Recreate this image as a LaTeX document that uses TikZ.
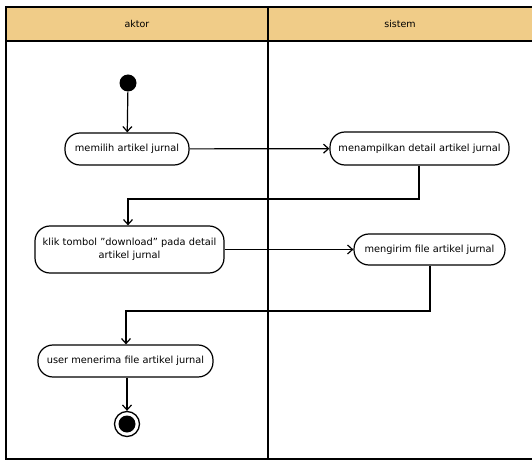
\documentclass[tikz,border=0pt]{standalone}
\usepackage{fontspec}
\setmainfont{DejaVu Sans}
\usetikzlibrary{arrows.meta}
\definecolor{headfill}{HTML}{F0CC88}
\tikzset{
  act/.style={draw, line width=1.2pt, rounded corners=15pt, fill=white, align=center,
    inner sep=0pt, font=\fontsize{9.8}{13}\selectfont},
  flow/.style={line width=1.2pt, -{Straight Barb[length=5pt,width=9pt]}},
  lane/.style={line width=1.8pt},
  headtxt/.style={font=\fontsize{9.5}{11}\selectfont}
}
\begin{document}
\begin{tikzpicture}[x=1pt,y=-1pt]
\useasboundingbox (0,0) rectangle (532,462);
% header
\fill[headfill] (6,7) rectangle (534,41);
\draw[lane] (534,7) -- (6,7) -- (6,459) -- (534,459);
\draw[lane] (6,41) -- (534,41);
\draw[lane] (268,7) -- (268,459);
\node[headtxt] (h1) at (137,24) {aktor};
\node[headtxt] (h2) at (400,24) {sistem};
% start
\node[circle, fill=black, minimum size=17pt, inner sep=0pt] (start) at (128,83) {};
% actions
\node[act, minimum width=124pt, minimum height=32pt] (a1) at (127,149) {memilih artikel jurnal};
\node[act, minimum width=179pt, minimum height=33pt] (a2) at (419.5,148.5) {menampilkan detail artikel jurnal};
\node[act, minimum width=189pt, minimum height=47pt, text width=185pt] (a3) at (129.5,249.5) {klik tombol \symbol{34}download\symbol{34} pada detail\\artikel jurnal};
\node[act, minimum width=151pt, minimum height=31pt] (a4) at (429.5,249.5) {mengirim file artikel jurnal};
\node[act, minimum width=175pt, minimum height=32pt] (a5) at (125.5,361) {user menerima file artikel jurnal};
% end
\node[circle, draw, line width=1.3pt, minimum size=25pt, inner sep=0pt] (end) at (127,424) {};
\node[circle, fill=black, minimum size=17pt, inner sep=0pt] (endin) at (end) {};
% flows
\draw[flow] (start) -- (a1);
\draw[flow] (a1) -- (a2);
\coordinate (b1) at (419,199);
\coordinate (b2) at (128,199);
\draw[flow] (a2.south -| b1) -- (b1) -- (b2) -- (b2 |- a3.north);
\draw[flow] (a3.east) -- (a4.west);
\coordinate (c1) at (430,311);
\coordinate (c2) at (126,311);
\draw[flow] (a4.south -| c1) -- (c1) -- (c2) -- (c2 |- a5.north);
\draw[flow] (a5.south -| end) -- (end.north);
\end{tikzpicture}
\end{document}
